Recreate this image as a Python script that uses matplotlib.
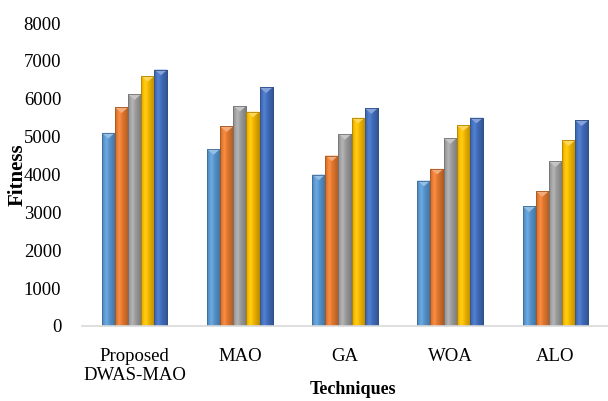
import numpy as np
import matplotlib
matplotlib.use("Agg")
import matplotlib.pyplot as plt
from matplotlib.colors import to_rgb
from matplotlib.patches import Polygon

categories = ["Proposed\nDWAS-MAO", "MAO", "GA", "WOA", "ALO"]
series1 = [5100, 4670, 4000, 3840, 3160]
series2 = [5770, 5270, 4500, 4150, 3560]
series3 = [6120, 5810, 5070, 4960, 4350]
series4 = [6600, 5660, 5500, 5300, 4900]
series5 = [6770, 6300, 5750, 5500, 5430]
series = [series1, series2, series3, series4, series5]
colors = ["#5B9BD5", "#ED7D31", "#A5A5A5", "#FFC000", "#4472C4"]
yticks = [0, 1000, 2000, 3000, 4000, 5000, 6000, 7000, 8000]

plt.rcParams['font.family'] = ['Liberation Serif', 'DejaVu Serif']

fig = plt.figure(figsize=(6.08, 4.01), dpi=100)
ax = fig.add_axes([82/608, (401-326)/401, (608-82)/608, (326-23)/401])

x = np.arange(len(categories))
w = 0.125
for i, (vals, c) in enumerate(zip(series, colors)):
    base = np.array(to_rgb(c))
    dark = base * 0.7
    bars = ax.bar(x + (i - 2) * w, vals, width=w, color=c,
                  edgecolor=tuple(dark), linewidth=0.6, zorder=2)
    prof = np.linspace(0, 1, 64)
    shade = 1.0 - 0.28 * np.abs(prof - 0.35) ** 1.2 / 0.65 ** 1.2
    light = np.clip(base * shade[:, None], 0, 1)
    light = np.clip(light + 0.06 * np.exp(-((prof - 0.3) / 0.15) ** 2)[:, None], 0, 1)
    img = light[None, :, :]
    for b in bars:
        x0, y0 = b.get_x(), b.get_y()
        bw, bh = b.get_width(), b.get_height()
        im = ax.imshow(img, extent=[x0, x0 + bw, y0, y0 + bh], aspect='auto',
                       zorder=2.1, interpolation='bilinear')
        im.set_clip_path(b)
        th = 150
        tri = Polygon([[x0, y0 + bh], [x0 + bw, y0 + bh], [x0 + bw / 2, y0 + bh - th]],
                      closed=True, facecolor=tuple(np.clip(base + (1 - base) * 0.35, 0, 1)),
                      edgecolor='none', zorder=2.2)
        ax.add_patch(tri)
        ax.add_patch(plt.Rectangle((x0, y0), bw, bh, fill=False,
                                   edgecolor=tuple(dark), linewidth=0.6, zorder=2.3))

ax.set_xlim(-0.5, 4.5)
ax.set_ylim(0, 8000)
ax.set_yticks(yticks)
ax.set_yticklabels([str(t) for t in yticks], fontsize=13.5)
ax.set_xticks(x)
ax.set_xticklabels(categories, fontsize=13.5, linespacing=1.15)
ax.tick_params(axis='both', length=0)
ax.tick_params(axis='y', pad=15)
ax.tick_params(axis='x', pad=16)
for s in ['left', 'top', 'right']:
    ax.spines[s].set_visible(False)
ax.spines['bottom'].set_color('#D9D9D9')
ax.spines['bottom'].set_linewidth(1.2)

ax.set_ylabel("Fitness", fontsize=15, fontweight='bold')
ax.yaxis.set_label_coords(-0.104, 0.5)
ax.set_xlabel("Techniques", fontsize=13, fontweight='bold')
ax.xaxis.set_label_coords(0.515, -0.183)

fig.savefig("out.png", dpi=100)
